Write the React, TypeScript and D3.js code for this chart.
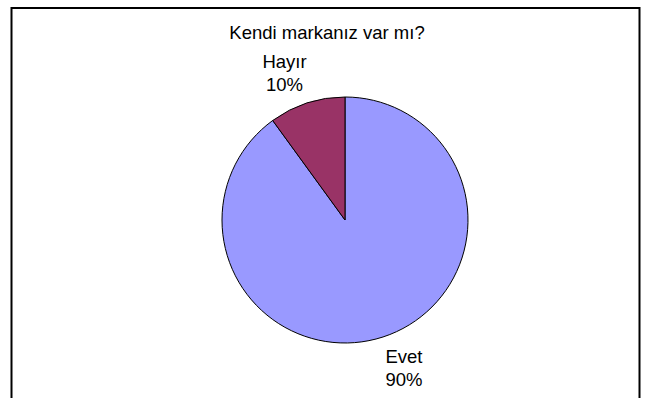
import React from "react";
import * as d3 from "d3";

const categories = ["Evet", "Hayır"];
const values = [90, 10];
const percentLabels = ["90%", "10%"];
const colors = ["#9999FF", "#993366"];
const title = "Kendi markanız var mı?";

export default function App() {
  const W = 647, H = 398;
  const cx = 345, cy = 220, r = 123;
  const data = categories.map((c, i) => ({ c, v: values[i], p: percentLabels[i], col: colors[i] }));
  const pie = d3.pie<any>().sort(null).value((d) => d.v).startAngle(0).endAngle(2 * Math.PI);
  const arcs = pie(data);
  const arc = d3.arc<any>().innerRadius(0).outerRadius(r);
  const fs = 18.5;
  return (
    <svg width={W} height={H} style={{ position: "absolute", left: 0, top: 0, fontFamily: "'Liberation Sans', Arial, sans-serif" }}>
      <rect x={0} y={0} width={W} height={H} fill="#fff" />
      <rect x={11.5} y={8} width={628} height={420} fill="#fff" stroke="#000" strokeWidth={2} />
      <text x={327} y={38.5} textAnchor="middle" fontSize={fs} fill="#000">{title}</text>
      {arcs.map((a, i) => (
        <path key={i} d={arc(a) as string} transform={`translate(${cx},${cy})`} fill={a.data.col} stroke="#000" strokeWidth={1} />
      ))}
      {arcs.map((a, i) => {
        const isEvet = a.data.c === "Evet";
        const x = isEvet ? 404 : 284.5;
        const y0 = isEvet ? 363 : 68;
        return (
          <g key={"l" + i}>
            <text x={x} y={y0} textAnchor="middle" fontSize={fs} fill="#000">{a.data.c}</text>
            <text x={x} y={y0 + 22.5} textAnchor="middle" fontSize={fs} fill="#000">{a.data.p}</text>
          </g>
        );
      })}
    </svg>
  );
}
